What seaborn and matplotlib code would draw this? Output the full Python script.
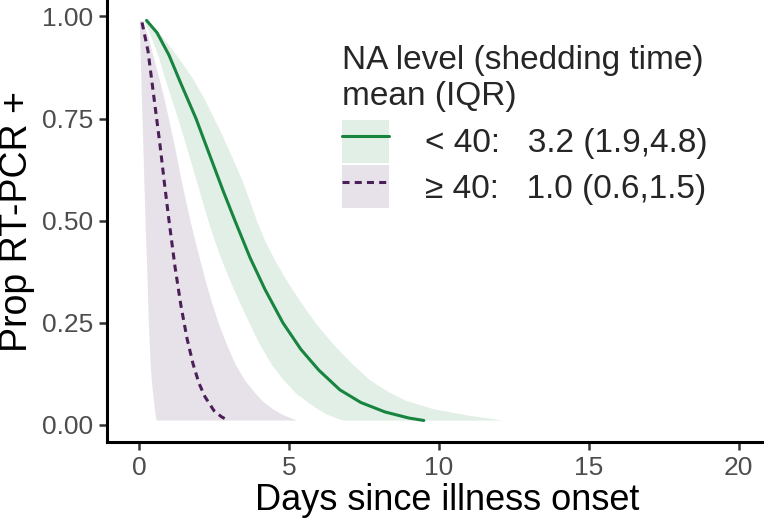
import numpy as np
import pandas as pd
import matplotlib
matplotlib.use("Agg")
import matplotlib.pyplot as plt
import seaborn as sns
from matplotlib.patches import Patch
from matplotlib.lines import Line2D

# fitted curves (days since onset, proportion still RT-PCR positive)
low_days = [0.25, 0.6, 1.0, 1.4, 1.9, 2.4, 2.8, 3.2, 3.7, 4.2, 4.8, 5.4, 6.0, 6.7, 7.4, 8.2, 9.0, 9.5]
low_prop = [0.99, 0.96, 0.905, 0.835, 0.75, 0.652, 0.574, 0.50, 0.41, 0.332, 0.25, 0.185, 0.134, 0.086, 0.055, 0.032, 0.017, 0.011]
high_days = [0.1, 0.3, 0.5, 0.7, 0.85, 1.0, 1.2, 1.4, 1.6, 1.8, 2.0, 2.2, 2.5, 2.75, 2.95]
high_prop = [0.985, 0.915, 0.80, 0.685, 0.59, 0.50, 0.387, 0.291, 0.212, 0.15, 0.102, 0.069, 0.035, 0.02, 0.012]

# uncertainty bands: proportion levels with lower / upper day
band_prop = [0.99, 0.95, 0.90, 0.85, 0.80, 0.75, 0.70, 0.65, 0.60, 0.55, 0.50, 0.45,
             0.40, 0.35, 0.30, 0.25, 0.20, 0.15, 0.11, 0.08, 0.06, 0.04, 0.025, 0.012]
low_band_lo = [0.15, 0.4, 0.65, 0.85, 1.07, 1.29, 1.5, 1.7, 1.9, 2.1, 2.3, 2.52,
               2.77, 3.05, 3.35, 3.67, 4.0, 4.4, 4.82, 5.2, 5.55, 5.95, 6.3, 6.8]
low_band_hi = [0.3, 0.78, 1.3, 1.77, 2.16, 2.5, 2.83, 3.13, 3.43, 3.68, 3.92, 4.2,
               4.55, 4.95, 5.4, 5.88, 6.45, 7.1, 7.7, 8.35, 8.9, 9.8, 10.9, 12.14]
high_band_lo = [0.0, 0.02, 0.04, 0.06, 0.08, 0.1, 0.12, 0.14, 0.16, 0.18, 0.2, 0.22,
                0.25, 0.27, 0.29, 0.31, 0.34, 0.37, 0.41, 0.45, 0.48, 0.51, 0.54, 0.57]
high_band_hi = [0.12, 0.3, 0.48, 0.66, 0.83, 0.98, 1.13, 1.27, 1.4, 1.55, 1.7, 1.87,
                2.04, 2.22, 2.42, 2.64, 2.9, 3.2, 3.52, 3.85, 4.1, 4.45, 4.8, 5.26]

labels = ["< 40:   3.2 (1.9,4.8)", "\u2265 40:   1.0 (0.6,1.5)"]
green = "#18843f"
purple = "#4b1f57"

df = pd.concat([
    pd.DataFrame({"days": low_days, "prop": low_prop, "group": "low"}),
    pd.DataFrame({"days": high_days, "prop": high_prop, "group": "high"}),
])

sns.set_theme(style="white")
plt.rcParams["font.family"] = ["Liberation Sans", "DejaVu Sans"]

fig = plt.figure(figsize=(7.64, 5.22), dpi=100)
ax = fig.add_axes([0.140, 0.153, 0.860, 0.847])

ax.fill_betweenx(band_prop, low_band_lo, low_band_hi, color=green, alpha=0.13, lw=0)
ax.fill_betweenx(band_prop, high_band_lo, high_band_hi, color=purple, alpha=0.13, lw=0)

sns.lineplot(data=df[df.group == "low"], x="days", y="prop", sort=False, estimator=None,
             color=green, lw=2.2, ax=ax, legend=False)
sns.lineplot(data=df[df.group == "high"], x="days", y="prop", sort=False, estimator=None,
             color=purple, lw=2.2, ax=ax, legend=False)
ax.lines[-1].set_dashes((2.3, 1.7))

ax.set_xlim(-1.07, 20.85)
ax.set_ylim(-0.042, 1.04)
ax.set_xticks([0, 5, 10, 15, 20])
ax.set_yticks([0, 0.25, 0.5, 0.75, 1.0])
ax.set_yticklabels(["0.00", "0.25", "0.50", "0.75", "1.00"])
ax.tick_params(axis="both", labelsize=19, labelcolor="#4d4d4d", color="#333333",
               length=6, width=1.8, direction="out", bottom=True, left=True, pad=4)
ax.set_xlabel("Days since illness onset", fontsize=26, color="black", labelpad=2, x=0.5175)
ax.set_ylabel("Prop RT-PCR +", fontsize=27, color="black", labelpad=5)

for side in ["top", "right"]:
    ax.spines[side].set_visible(False)
for side in ["left", "bottom"]:
    ax.spines[side].set_color("black")
    ax.spines[side].set_linewidth(2.2)

handles = [
    (Patch(facecolor=green, alpha=0.13, lw=0), Line2D([], [], color=green, lw=2.2)),
    (Patch(facecolor=purple, alpha=0.13, lw=0), Line2D([], [], color=purple, lw=2.2, dashes=(2.3, 1.7))),
]
leg = ax.legend(handles, labels, title="NA level (shedding time)\nmean (IQR)",
                loc="upper left", bbox_to_anchor=(0.426, 0.946), bbox_transform=fig.transFigure,
                frameon=False, fontsize=24, title_fontsize=24, handlelength=1.4, handleheight=1.6,
                handletextpad=1.1, labelspacing=0.08, borderpad=0, alignment="left")
leg._legend_box.sep = 6

fig.savefig("out.png", dpi=100)
